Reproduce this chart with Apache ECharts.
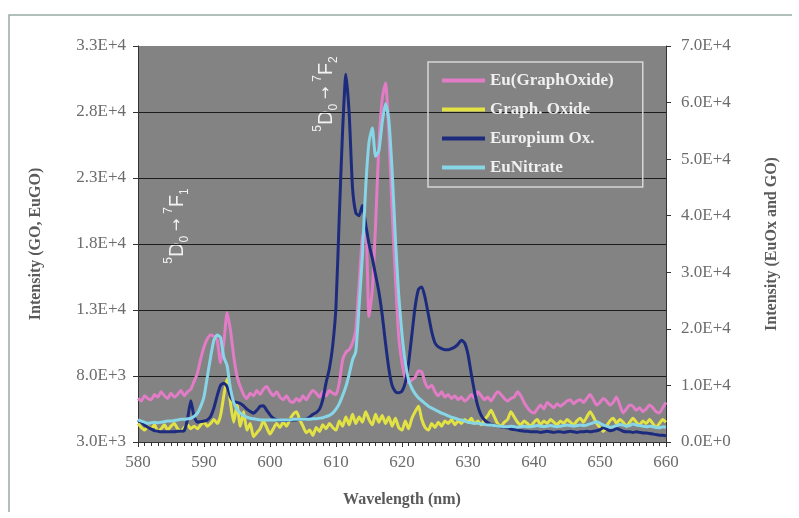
<!DOCTYPE html>
<html>
<head>
<meta charset="utf-8">
<script src="https://cdn.jsdelivr.net/npm/echarts@6/dist/echarts.min.js"></script>
<style>
html, body { margin: 0; padding: 0; background: #fff; }
#chart { width: 799px; height: 518px; }
</style>
</head>
<body>
<div id="chart"></div>
<script>
// wavelength grid, 580..660 nm every 0.5 nm
const wavelengths = Array.from({ length: 161 }, (_, i) => 580 + i * 0.5)

// Eu(GraphOxide) - left axis
const euGraphOxide = [
  6300, 6100, 6500, 6300, 6200, 6600, 6400, 6800, 6500, 6300, 6700, 6400, 6600, 6900, 6500, 6800, 7000, 7600, 8200, 9300,
  10200, 10800, 11100, 11000, 10700, 9000, 10500, 12800, 11500, 9500, 8000, 7200, 6600, 6300, 6700, 6500, 6900, 6600, 7000, 7200,
  6800, 6500, 6800, 6400, 6200, 6500, 6100, 6000, 6300, 6100, 6500, 6200, 6600, 6900, 6700, 6400, 6800, 6500, 6900, 6700,
  6600, 7500, 9200, 9800, 10000, 10500, 11500, 15000, 18500, 19500, 12500, 14500, 19500, 25500, 29000, 30200, 26500, 20500, 15500, 11000,
  9000, 7800, 7500, 7700, 7900, 8400, 8300, 7500, 7100, 7300, 6800, 6500, 6800, 6400, 6600, 6300, 6500, 6200, 6400, 6100,
  6300, 6600, 6300, 6800, 6500, 6200, 6400, 6100, 6500, 6800, 6600, 6300, 6100, 6300, 6400, 6800, 6500, 6000, 5600, 5300,
  5200, 5500, 5800, 5500, 6000, 5800, 5600, 5900, 5700, 5900, 6100, 6200, 5900, 6100, 6200, 6000, 6300, 6600, 6200, 5800,
  6000, 6300, 6100, 5800, 6000, 6400, 5800, 5200, 5500, 5800, 5700, 5400, 5600, 5300, 5500, 5800, 5600, 5300, 5200, 5600,
  6000
]

// Graph. Oxide - left axis
const graphOxide = [
  4400, 4100, 3900, 4200, 4000, 4300, 3800, 4000, 4300, 3900, 4200, 4400, 4000, 3800, 4100, 4300, 4000, 4200, 4000, 4300,
  4500, 4200, 4400, 4700, 4400, 5000, 6500, 7800, 6000, 4500, 5800, 4200, 5300, 3900, 4400, 3400, 3700, 4000, 4600, 4100,
  3600, 4000, 4400, 4100, 4500, 4200, 4700, 5100, 5300, 4700, 4200, 3700, 3900, 3500, 4100, 3800, 4300, 4000, 4400, 4100,
  3900, 4600, 4200, 4900, 4300, 5100, 4400, 4900, 4500, 5300, 4700, 4300, 5100, 4500, 5000, 4400, 4900, 4200, 4800, 4100,
  3900, 4600, 4000, 4800, 5300, 5700, 4700, 4100, 3900, 4400, 4100, 4500, 4200, 4600, 4400, 4700, 4300, 4600, 4400, 4700,
  4500, 4800, 4400, 4600, 4300, 4700, 5000, 5400, 4900, 4400, 4200, 4500, 4700, 5300, 4900, 4500, 4300, 4600, 4400, 4200,
  4500, 4700, 4300, 4600, 4400, 4700, 4500, 4300, 4600, 4400, 4700, 4500, 4300, 4600, 4800, 4500, 4900, 5300, 4900, 4400,
  4100, 3800, 4200, 4600, 4800, 4400, 4700, 4500, 4200, 4500, 4800, 4500, 4300, 4600, 4400, 4700, 4400, 4100, 4400, 4700,
  4500
]

// Europium Ox. - right axis
const europiumOx = [
  3900, 3500, 3000, 2600, 2300, 2000, 1900, 1800, 1800, 1800, 1800, 1800, 1900, 1900, 2000, 4000, 7300, 4500, 3500, 3600,
  3700, 3900, 4500, 6000, 8200, 10000, 10400, 9800, 8000, 7200, 7000, 6800, 6400, 5800, 5400, 5100, 5600, 6300, 6400, 5600,
  4800, 4200, 3900, 3800, 3800, 3800, 3900, 3900, 3900, 4000, 4000, 4100, 4400, 4900, 5200, 5800, 7500, 10500, 13000, 17000,
  24000, 40000, 55000, 65000, 58000, 45000, 40500, 40000, 41800, 38500, 35000, 32500, 29500, 26500, 22500, 17500, 13000, 10000, 8900, 8700,
  9000, 10500, 14000, 19000, 24000, 27000, 27400, 25500, 22500, 19500, 17500, 16800, 16500, 16300, 16300, 16500, 16800, 17300, 18000, 17500,
  15500, 12000, 8800, 6300, 4700, 3900, 3400, 3100, 2900, 2800, 2700, 2600, 2500, 2300, 2200, 2100, 2000, 1900, 1900, 1800,
  1800, 1800, 1700, 1800, 1900, 1800, 1700, 1800, 1800, 1700, 1800, 1900, 1800, 1700, 1800, 1800, 1900, 1800, 1900, 2000,
  2200, 2500, 2300, 2000, 2100, 2400, 2200, 1900, 1800, 1800, 1700, 1800, 1700, 1600, 1600, 1500, 1400, 1300, 1200, 1200,
  1100
]

// EuNitrate - right axis
const euNitrate = [
  3900, 3700, 3500, 3300, 3400, 3500, 3400, 3500, 3600, 3700, 3700, 3800, 3900, 4000, 4000, 4100, 4200, 4500, 5100, 6300,
  8000, 11500, 15000, 18000, 18900, 18500, 15000, 13500, 9500, 7000, 5800, 5100, 4700, 4400, 4200, 4100, 4000, 3900, 3900, 3900,
  3900, 3900, 3900, 3900, 3900, 3900, 3900, 4000, 4000, 4000, 4000, 4000, 4000, 4100, 4100, 4200, 4300, 4500, 4700, 5100,
  5800, 6800, 8200, 9800, 12000, 14500, 16000, 24000, 33000, 45000, 53000, 55500, 50500, 51500, 56500, 59800, 57000, 48000, 36000, 26000,
  19000, 14000, 11000, 9500, 8500, 7800, 7300, 6800, 6300, 6000, 5700, 5400, 5100, 4900, 4600, 4400, 4200, 4000, 3900, 3700,
  3500, 3400, 3300, 3300, 3200, 3100, 3000, 3000, 2900, 2800, 2800, 2700, 2700, 2800, 2700, 2600, 2700, 2800, 2700, 2700,
  2800, 2900, 2800, 2700, 2800, 2900, 2800, 2700, 2800, 2900, 3000, 2900, 2800, 2900, 3000, 2900, 3000, 3200, 3400, 3600,
  3300, 3000, 2800, 2600, 2700, 2900, 3100, 3000, 2800, 2900, 3200, 3000, 2900, 2800, 2700, 2800, 2700, 2600, 2500, 2700,
  2600
]

const seriesNames = ['Eu(GraphOxide)', 'Graph. Oxide', 'Europium Ox.', 'EuNitrate']
const seriesColors = ['#e37cc6', '#e2e244', '#1d2b7e', '#86d6e8']

const chart = echarts.init(document.getElementById('chart'))

const labelStyle = {
  color: '#6c6c6c',
  fontFamily: 'Liberation Serif',
  fontSize: 17
}
const nameStyle = {
  color: '#5a5a5a',
  fontFamily: 'Liberation Serif',
  fontWeight: 'bold',
  fontSize: 16
}
const sciFormat = v => v.toExponential(1).toUpperCase()

const makeSeries = (i, values, axisIndex) => ({
  name: seriesNames[i],
  type: 'line',
  yAxisIndex: axisIndex,
  data: wavelengths.map((w, k) => [w, values[k]]),
  showSymbol: false,
  smooth: 0.2,
  lineStyle: { width: 3, color: seriesColors[i] },
  itemStyle: { color: seriesColors[i] }
})

const annotation = (x, y, low) => ({
  type: 'text',
  x: x,
  y: y,
  rotation: Math.PI / 2,
  style: {
    text: '{s|5}{b|D}{d|0}{a| \u2192 }{s|7}{b|F}{d|' + low + '}',
    align: 'center',
    verticalAlign: 'middle',
    fill: '#f2f2f2',
    rich: {
      b: { fontFamily: 'Liberation Sans', fontSize: 20, fill: '#f2f2f2', lineHeight: 28 },
      s: { fontFamily: 'Liberation Sans', fontSize: 12, fill: '#f2f2f2', verticalAlign: 'top', lineHeight: 28 },
      d: { fontFamily: 'Liberation Sans', fontSize: 12, fill: '#f2f2f2', verticalAlign: 'bottom', lineHeight: 28 },
      a: { fontFamily: 'DejaVu Sans', fontSize: 15, fill: '#f2f2f2', lineHeight: 28 }
    }
  }
})

chart.setOption({
  animation: false,
  backgroundColor: '#ffffff',
  grid: {
    left: 138,
    right: 133,
    top: 46,
    bottom: 76,
    show: true,
    backgroundColor: '#838383',
    borderWidth: 0
  },
  legend: {
    orient: 'vertical',
    left: 428,
    top: 62,
    padding: [10, 29, 11, 14],
    itemGap: 12,
    itemWidth: 43,
    itemHeight: 4,
    icon: 'rect',
    borderColor: '#d6d6d6',
    borderWidth: 1.5,
    data: seriesNames,
    textStyle: {
      color: '#f0f0f0',
      fontFamily: 'Liberation Serif',
      fontWeight: 'bold',
      fontSize: 17
    }
  },
  xAxis: {
    type: 'value',
    min: 580,
    max: 660,
    interval: 10,
    name: 'Wavelength (nm)',
    nameLocation: 'middle',
    nameGap: 50,
    nameTextStyle: nameStyle,
    axisLine: { lineStyle: { color: '#333', width: 1 } },
    axisTick: { length: 5, lineStyle: { color: '#333' } },
    minorTick: { show: true, splitNumber: 10, length: 4, lineStyle: { color: '#333' } },
    axisLabel: Object.assign({ margin: 12 }, labelStyle),
    splitLine: { show: false }
  },
  yAxis: [
    {
      type: 'value',
      min: 3000,
      max: 33000,
      interval: 5000,
      name: 'Intensity (GO, EuGO)',
      nameLocation: 'middle',
      nameRotate: 90,
      nameGap: 94,
      nameTextStyle: nameStyle,
      axisLine: { show: true, lineStyle: { color: '#333', width: 1 } },
      axisTick: { show: true, length: 5, lineStyle: { color: '#333' } },
      axisLabel: Object.assign({ margin: 12, formatter: sciFormat }, labelStyle),
      splitLine: { show: true, showMaxLine: false, lineStyle: { color: '#1c1c1c', width: 1 } }
    },
    {
      type: 'value',
      position: 'right',
      min: 0,
      max: 70000,
      interval: 10000,
      name: 'Intensity (EuOx and GO)',
      nameLocation: 'middle',
      nameRotate: 90,
      nameGap: 98,
      nameTextStyle: nameStyle,
      axisLine: { show: true, lineStyle: { color: '#333', width: 1 } },
      axisTick: { show: true, length: 5, lineStyle: { color: '#333' } },
      axisLabel: Object.assign({ margin: 15, formatter: sciFormat }, labelStyle),
      splitLine: { show: false }
    }
  ],
  graphic: [
    {
      type: 'polyline',
      shape: { points: [[9, 512], [9, 15], [792, 15]] },
      style: { fill: null, stroke: '#97aaa3', lineWidth: 1.5 },
      silent: true
    },
    annotation(177, 226, '1'),
    annotation(326, 94, '2')
  ],
  series: [
    makeSeries(0, euGraphOxide, 0),
    makeSeries(1, graphOxide, 0),
    makeSeries(2, europiumOx, 1),
    makeSeries(3, euNitrate, 1)
  ]
})

window.addEventListener('resize', () => chart.resize())
</script>
</body>
</html>
